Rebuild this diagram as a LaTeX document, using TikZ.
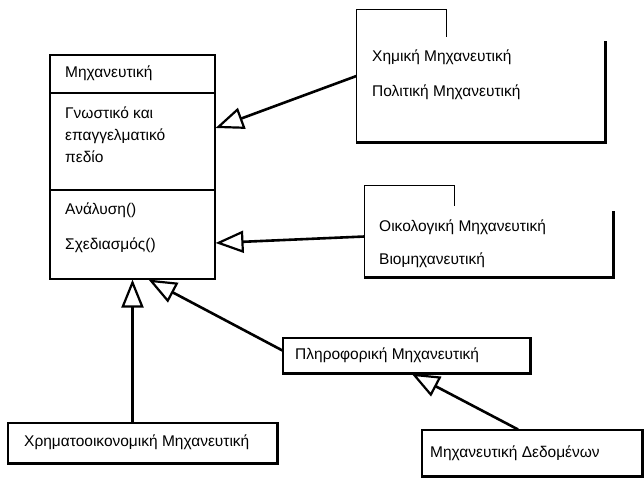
\documentclass[tikz,border=0pt]{standalone}
\usepackage{fontspec}
\setmainfont{Liberation Sans}
\usetikzlibrary{arrows.meta,positioning}

\tikzset{
  frame/.style={inner sep=0pt, line width=1.1pt},
  heavy/.style={line width=2.2pt},
  lbl/.style={anchor=west, inner sep=0pt, align=left, font=\fontsize{15.5}{22}\selectfont},
  gen/.style={line width=2.6pt, -{Triangle[open,length=28pt,width=22pt,line width=2.2pt]}},
}

\begin{document}
\begin{tikzpicture}[x=1pt, y=-1pt]
  \useasboundingbox (0,0) rectangle (644,478);

  % class box
  \node[frame, draw, minimum width=165pt, minimum height=224pt] (cls) at (132.5,167) {};
  \draw[frame, line width=1.6pt] (cls.west |- 0,93) -- (cls.east |- 0,93);
  \draw[frame] (cls.west |- 0,190) -- (cls.east |- 0,190);
  \node[lbl] (title) at (65,73) {Μηχανευτική};
  \node[lbl] (attr) at (65,135) {Γνωστικό και\\επαγγελματικό\\πεδίο};
  \node[lbl] (anal) at (65,210) {Ανάλυση()};
  \node[lbl] (design) at (65,245) {Σχεδιασμός()};

  % upper right box
  \node[frame, minimum width=248pt, minimum height=132pt] (chem) at (481,76) {};
  \draw[frame] (chem.south west) -- (chem.north west) -- ++(90,0) -- ++(0,28);
  \draw[heavy] (chem.south west) -- (chem.south east) -- ++(0,-102);
  \node[lbl] (chem1) at (372,57) {Χημική Μηχανευτική};
  \node[lbl] (chem2) at (372,92) {Πολιτική Μηχανευτική};

  % middle right box
  \node[frame, minimum width=248pt, minimum height=91pt] (oiko) at (489,231.5) {};
  \draw[frame] (oiko.south west) -- (oiko.north west) -- ++(90,0) -- ++(0,21);
  \draw[heavy] (oiko.south west) -- (oiko.south east) -- ++(0,-67);
  \node[lbl] (oiko1) at (379,227) {Οικολογική Μηχανευτική};
  \node[lbl] (oiko2) at (379,260) {Βιομηχανευτική};

  % lower boxes
  \node[frame, draw, minimum width=247pt, minimum height=35pt] (pli) at (406.5,355.5) {};
  \draw[heavy] (pli.south west) -- (pli.south east) -- (pli.north east);
  \node[lbl] (pli1) at (295,355) {Πληροφορική Μηχανευτική};

  \node[frame, draw, minimum width=269pt, minimum height=40pt] (fin) at (142.5,443) {};
  \draw[heavy] (fin.south west) -- (fin.south east) -- (fin.north east);
  \node[lbl] (fin1) at (24,442) {Χρηματοοικονομική Μηχανευτική};

  \node[frame, draw, minimum width=220pt, minimum height=46pt] (data) at (532,453) {};
  \draw[heavy] (data.south west) -- (data.south east) -- (data.north east);
  \node[lbl] (data1) at (430,453) {Μηχανευτική Δεδομένων};

  % generalisations
  \draw[gen] (chem.west) -- ([yshift=39pt]cls.east);
  \draw[gen] ([yshift=-5pt]oiko.west) -- ([yshift=-76pt]cls.east);
  \draw[gen] ([yshift=5pt]pli.west) -- ([xshift=16pt]cls.south);
  \draw[gen, line width=3.4pt] (fin.north -| cls.south) -- (cls.south);
  \draw[gen] ([xshift=-14pt]data.north) -- ([xshift=5pt]pli.south);
\end{tikzpicture}
\end{document}
